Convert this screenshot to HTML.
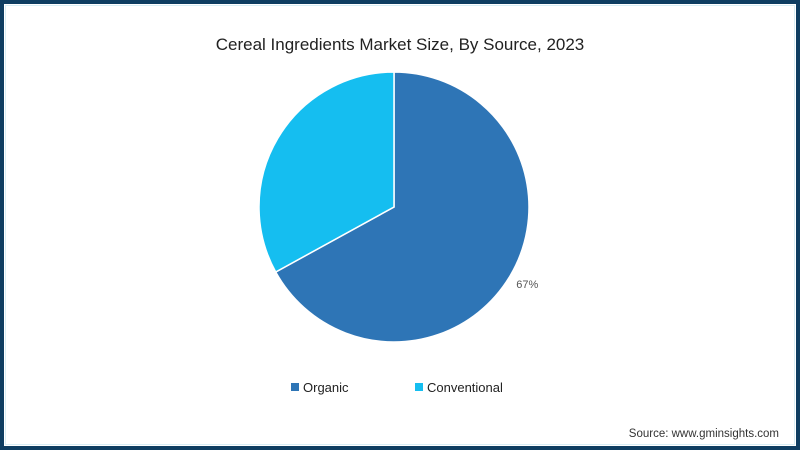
<!DOCTYPE html>
<html><head><meta charset="utf-8"><style>
body{margin:0;width:800px;height:450px;overflow:hidden;font-family:"Liberation Sans",sans-serif;}
#frame{position:absolute;left:0;top:0;width:792px;height:442px;border:4px solid #0e3d61;background:#fff;}
#inner{position:absolute;left:1px;top:1px;right:1px;bottom:1px;border:1px solid #d8eef5;}
</style></head><body>
<div id="frame"><div id="inner"></div></div>
<svg id="chart" width="800" height="450" style="position:absolute;left:0;top:0">
<text x="400" y="50" text-anchor="middle" font-size="17" fill="#222">Cereal Ingredients Market Size, By Source, 2023</text>
<g id="slices"></g>
<g id="legend"></g>
<text x="779" y="437" text-anchor="end" font-size="11.5" fill="#333">Source: www.gminsights.com</text>
</svg>
<script>
const categories=["Organic","Conventional"];
const values=[67,33];
const labels=["67%",""];
const colors=["#2e75b6","#15bef0"];
const cx=394,cy=207,r=135;
const ns="http://www.w3.org/2000/svg";
const g=document.getElementById('slices');
const total=values.reduce((a,b)=>a+b,0);
let a0=0;
function pt(a,rr){return [cx+rr*Math.sin(a),cy-rr*Math.cos(a)];}
values.forEach((v,i)=>{
  const a1=a0+v/total*2*Math.PI;
  const p0=pt(a0,r),p1=pt(a1,r);
  const large=(a1-a0)>Math.PI?1:0;
  const p=document.createElementNS(ns,'path');
  p.setAttribute('d',`M${cx},${cy}L${p0[0]},${p0[1]}A${r},${r} 0 ${large} 1 ${p1[0]},${p1[1]}Z`);
  p.setAttribute('fill',colors[i]);
  p.setAttribute('stroke','#fff');
  p.setAttribute('stroke-width','1.5');
  
  
  g.appendChild(p);
  if(labels[i]){
    const la=a0+(a1-a0)*0.5;
    const lp=pt(Math.PI*0.667,154);
    const t=document.createElementNS(ns,'text');
    t.setAttribute('x',lp[0]);t.setAttribute('y',lp[1]+4);
    t.setAttribute('font-size','11');t.setAttribute('fill','#555');
    t.setAttribute('text-anchor','middle');
    t.textContent=labels[i];
    
    
    g.appendChild(t);
  }
  a0=a1;
});
const lg=document.getElementById('legend');
const lx=[291,415];
categories.forEach((c,i)=>{
  const rc=document.createElementNS(ns,'rect');
  rc.setAttribute('x',lx[i]);rc.setAttribute('y',383);rc.setAttribute('width',8);rc.setAttribute('height',8);
  rc.setAttribute('fill',colors[i]);
  
  
  lg.appendChild(rc);
  const t=document.createElementNS(ns,'text');
  t.setAttribute('x',lx[i]+12);t.setAttribute('y',392);
  t.setAttribute('font-size','13');t.setAttribute('fill','#222');
  t.textContent=c;
  
  
  lg.appendChild(t);
});
</script>
</body></html>
